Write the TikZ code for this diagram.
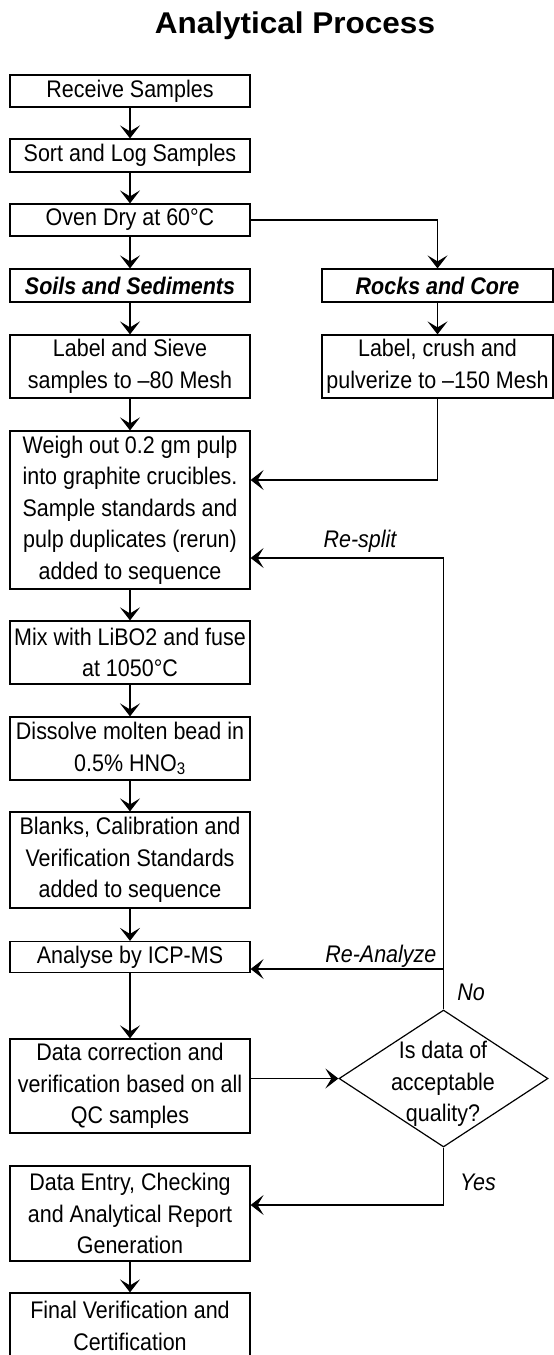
\documentclass[tikz,border=0pt]{standalone}
\usepackage{fontspec}
\setmainfont{Liberation Sans}[FakeStretch=0.895]
\newfontfamily\titlefont{Liberation Sans}[FakeStretch=1.05]
\usetikzlibrary{arrows.meta,shapes.geometric}

\begin{document}
\begin{tikzpicture}[x=1pt,y=-1pt,line width=1.2pt,
    box/.style={draw,minimum width=240pt,inner sep=0pt,align=center,font=\fontsize{24}{31.5}\selectfont},
    arr/.style={-{Stealth[length=13pt,width=20pt,inset=6pt]}},
    lbl/.style={font=\fontsize{24}{31.5}\selectfont\itshape}]
        \useasboundingbox (0,0) rectangle (554,1355);
        %titolo
        \node[font=\titlefont\bfseries\fontsize{30}{36}\selectfont] (titolo) at (295,26) {Analytical Process};
        %colonna sinistra
        \node[box,minimum height=32pt] (receive) at (130,91) {Receive Samples};
        \node[box,minimum height=33pt] (sort) at (130,155.5) {Sort and Log Samples};
        \node[box,minimum height=32pt] (oven) at (130,220) {Oven Dry at 60°C};
        \node[box,minimum height=33pt] (soils) at (130,285.5) {\bfseries\itshape Soils and Sediments};
        \node[box,minimum height=63pt] (sieve) at (130,366.5) {Label and Sieve\\samples to –80 Mesh};
        \node[box,minimum height=158pt] (weigh) at (130,510) {Weigh out 0.2 gm pulp\\into graphite crucibles.\\Sample standards and\\pulp duplicates (rerun)\\added to sequence};
        \node[box,minimum height=63pt] (mix) at (130,652.5) {Mix with LiBO2 and fuse\\at 1050°C};
        \node[box,minimum height=63pt] (dissolve) at (130,748.5) {Dissolve molten bead in\\0.5\% HNO\textsubscript{3}};
        \node[box,minimum height=96pt] (blanks) at (130,860) {Blanks, Calibration and\\Verification Standards\\added to sequence};
        \node[box,minimum height=31pt] (analyse) at (130,957) {Analyse by ICP-MS};
        \node[box,minimum height=94pt] (datacorr) at (130,1086) {Data correction and\\verification based on all\\QC samples};
        \node[box,minimum height=95pt] (entry) at (130,1213.5) {Data Entry, Checking\\and Analytical Report\\Generation};
        \node[box,minimum height=66pt] (final) at (130,1326) {Final Verification and\\Certification}; %bordo inferiore fuori pagina
        %colonna destra
        \node[box,minimum width=231pt,minimum height=33pt] (rocks) at (437.5,285.5) {\bfseries\itshape Rocks and Core};
        \node[box,minimum width=231pt,minimum height=63pt] (crush) at (437.5,366.5) {Label, crush and\\pulverize to –150 Mesh};
        %controllo qualita
        \node[draw,diamond,minimum width=209pt,minimum height=137pt,inner sep=0pt] (check) at (443.5,1078.5) {};
        \node[align=center,font=\fontsize{24}{31.5}\selectfont] (checktxt) at (443,1084) {Is data of\\acceptable\\quality?};
        %frecce principali
        \draw[arr] (receive) -- (sort);
        \draw[arr] (sort) -- (oven);
        \draw[arr] (oven) -- (soils);
        \draw[arr] (soils) -- (sieve);
        \draw[arr] (sieve) -- (weigh);
        \draw[arr] (weigh) -- (mix);
        \draw[arr] (mix) -- (dissolve);
        \draw[arr] (dissolve) -- (blanks);
        \draw[arr] (blanks) -- (analyse);
        \draw[arr] (analyse) -- (datacorr);
        \draw[arr] (entry) -- (final);
        %ramo rocce
        \draw[arr] (oven.east) -| (rocks.north);
        \draw[arr] (rocks) -- (crush);
        \draw[arr] (crush.south) |- ([yshift=30pt]weigh.east);
        %ritorni dal controllo
        \draw[arr] (datacorr.east |- check.west) -- (check.west);
        \draw[arr] (check.north) |- ([yshift=-48pt]weigh.east);
        \draw[arr] ([yshift=-12pt]analyse.east -| check.north) -- ([yshift=-12pt]analyse.east);
        \draw[arr] (check.south) |- ([yshift=8.5pt]entry.east);
        %etichette
        \node[lbl] (resplit) at (360,541) {Re-split};
        \node[lbl,anchor=south east,inner sep=1pt] (reanalyze) at (438,969) {Re-Analyze};
        \node[lbl] (no) at (471,992) {No};
        \node[lbl] (yes) at (478,1182) {Yes};
\end{tikzpicture}
\end{document}
